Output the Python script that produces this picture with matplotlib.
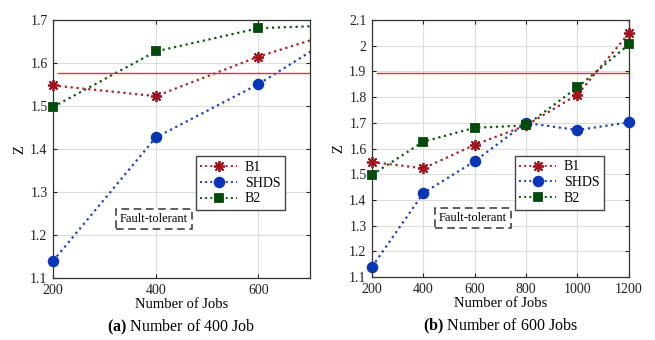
import matplotlib
matplotlib.use('Agg')
import matplotlib.pyplot as plt
from matplotlib.lines import Line2D

plt.rcParams['font.family'] = ['Liberation Serif', 'DejaVu Serif']
plt.rcParams['mathtext.fontset'] = 'custom'
plt.rcParams['mathtext.rm'] = 'Liberation Serif'
plt.rcParams['mathtext.bf'] = 'Liberation Serif:bold'

# data
jobs = [200, 400, 600, 800, 1000, 1200]
b1 = [1.548, 1.523, 1.615, 1.690, 1.810, 2.048]
shds = [1.140, 1.427, 1.551, 1.700, 1.672, 1.702]
b2 = [1.498, 1.627, 1.681, 1.690, 1.838, 2.005]
ref_line = [1.577, 1.895]
xlims = [(200, 700), (200, 1200)]
ylims = [(1.1, 1.7), (1.1, 2.1)]
xticks = [[200, 400, 600], [200, 400, 600, 800, 1000, 1200]]
yticks = [[1.1, 1.2, 1.3, 1.4, 1.5, 1.6, 1.7],
          [1.1, 1.2, 1.3, 1.4, 1.5, 1.6, 1.7, 1.8, 1.9, 2.0, 2.1]]
ytick_labels = [['1.1', '1.2', '1.3', '1.4', '1.5', '1.6', '1.7'],
                ['1.1', '1.2', '1.3', '1.4', '1.5', '1.6', '1.7', '1.8', '1.9', '2', '2.1']]
titles = [r'$\mathbf{(a)}$ Number of 400 Job', r'$\mathbf{(b)}$ Number of 600 Jobs']

series = [
    ('B1', b1, '#b01c22', '#a0141e', (8, 2, 0), 8),
    ('SHDS', shds, '#1a3fc0', '#0a35b5', 'o', 7),
    ('B2', b2, '#0c5a12', '#044a0a', 's', 6),
]

fig = plt.figure(figsize=(6.55, 3.4), dpi=100)
ax1 = fig.add_axes([0.081, 0.182, 0.392, 0.759])
ax2 = fig.add_axes([0.568, 0.185, 0.392, 0.756])

for i, ax in enumerate([ax1, ax2]):
    handles = []
    for name, vals, lc, mc, mk, ms in series:
        ax.plot(jobs, vals, ':', color=lc, lw=1.6)
        xin = [x for x in jobs if x <= xlims[i][1]]
        yin = vals[:len(xin)]
        ax.plot(xin, yin, ls='none', marker=mk, ms=ms, mfc=mc, mec=mc,
                mew=1.3, clip_on=False, zorder=3)
        handles.append(Line2D([], [], ls=':', color=lc, lw=1.4, marker=mk,
                              ms=ms, mfc=mc, mec=mc, mew=1.3, label=name))
    ax.axhline(ref_line[i], xmin=0.02, xmax=1, color='#f03030', lw=1.0)
    ax.set_xlim(*xlims[i])
    ax.set_ylim(*ylims[i])
    ax.set_xticks(xticks[i])
    ax.set_yticks(yticks[i])
    ax.set_yticklabels(ytick_labels[i])
    ax.grid(True, color='#dcdcdc', lw=0.8)
    ax.set_axisbelow(True)
    ax.tick_params(direction='in', top=True, right=True, labelsize=10,
                   length=3, pad=4, colors='#222222')
    for s in ax.spines.values():
        s.set_color('#333333')
        s.set_linewidth(0.9)
    ax.set_xlabel('Number of Jobs', fontsize=10.5, labelpad=1)
    ax.set_ylabel('Z', fontsize=10.5, labelpad=3)
    leg = ax.legend(handles=handles, loc='upper right',
                    bbox_to_anchor=(0.932, 0.5),
                    fontsize=10, fancybox=False, edgecolor='#444444',
                    framealpha=1, handlelength=2.6, borderpad=0.35,
                    labelspacing=0.2, handletextpad=0.6)
    leg.get_frame().set_linewidth(1.0)
    ax.text(0.393, 0.229, 'Fault-tolerant', transform=ax.transAxes,
            ha='center', va='center', fontsize=9,
            bbox=dict(boxstyle='square,pad=0.3', fc='white', ec='#333333',
                      ls=(0, (5, 3)), lw=1.1))
    ax.text(0.5, -0.19, titles[i], transform=ax.transAxes, ha='center',
            va='center', fontsize=11.5)

fig.savefig('out.png', dpi=100)
